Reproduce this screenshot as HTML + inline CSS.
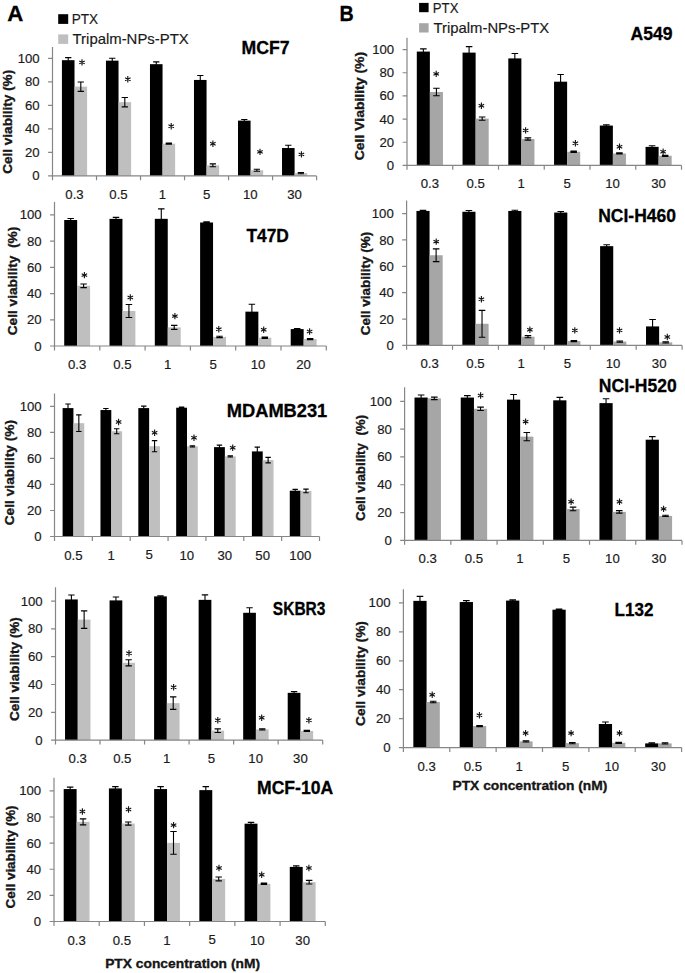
<!DOCTYPE html>
<html><head><meta charset="utf-8"><style>
html,body{margin:0;padding:0;background:#fff;}
svg{display:block;font-family:"Liberation Sans",sans-serif;}
text{stroke:#1a1a1a;stroke-width:0.18px;}
text[font-weight=bold]{stroke:#000;stroke-width:0.3px;}
</style></head><body>
<svg width="685" height="973" viewBox="0 0 685 973">
<rect width="685" height="973" fill="#fff"/>
<rect x="61.93" y="60.18" width="12.58" height="115.72" fill="#000"/>
<rect x="74.51" y="86.64" width="12.58" height="89.26" fill="#bfbfbf"/>
<path d="M68.22 57.59V62.77M65.08 57.59H71.36M65.08 62.77H71.36" stroke="#000" stroke-width="1.1" fill="none"/>
<path d="M80.80 81.94V91.35M77.65 81.94H83.94M77.65 91.35H83.94" stroke="#000" stroke-width="1.1" fill="none"/>
<rect x="105.95" y="60.65" width="12.58" height="115.25" fill="#000"/>
<rect x="118.53" y="102.16" width="12.58" height="73.74" fill="#bfbfbf"/>
<path d="M112.24 58.30V63.00M109.09 58.30H115.38M109.09 63.00H115.38" stroke="#000" stroke-width="1.1" fill="none"/>
<path d="M124.81 97.46V106.87M121.67 97.46H127.96M121.67 106.87H127.96" stroke="#000" stroke-width="1.1" fill="none"/>
<rect x="149.97" y="64.18" width="12.58" height="111.72" fill="#000"/>
<rect x="162.54" y="143.68" width="12.58" height="32.22" fill="#bfbfbf"/>
<path d="M156.25 61.83V66.53M153.11 61.83H159.40M153.11 66.53H159.40" stroke="#000" stroke-width="1.1" fill="none"/>
<path d="M168.83 143.08V144.28M165.69 143.08H171.97M165.69 144.28H171.97" stroke="#000" stroke-width="1.1" fill="none"/>
<rect x="193.98" y="79.94" width="12.58" height="95.96" fill="#000"/>
<rect x="206.56" y="165.32" width="12.58" height="10.58" fill="#bfbfbf"/>
<path d="M200.27 75.47V84.41M197.13 75.47H203.41M197.13 84.41H203.41" stroke="#000" stroke-width="1.1" fill="none"/>
<path d="M212.85 163.90V166.73M209.70 163.90H215.99M209.70 166.73H215.99" stroke="#000" stroke-width="1.1" fill="none"/>
<rect x="238.00" y="120.63" width="12.58" height="55.27" fill="#000"/>
<rect x="250.58" y="170.26" width="12.58" height="5.64" fill="#bfbfbf"/>
<path d="M244.29 119.45V121.80M241.14 119.45H247.43M241.14 121.80H247.43" stroke="#000" stroke-width="1.1" fill="none"/>
<path d="M256.86 169.31V171.20M253.72 169.31H260.01M253.72 171.20H260.01" stroke="#000" stroke-width="1.1" fill="none"/>
<rect x="282.02" y="148.03" width="12.58" height="27.87" fill="#000"/>
<rect x="294.59" y="173.08" width="12.58" height="2.82" fill="#bfbfbf"/>
<path d="M288.30 145.32V150.73M285.16 145.32H291.45M285.16 150.73H291.45" stroke="#000" stroke-width="1.1" fill="none"/>
<path d="M300.88 172.48V173.68M297.74 172.48H304.02M297.74 173.68H304.02" stroke="#000" stroke-width="1.1" fill="none"/>
<path d="M52.50 47.00V175.90H316.60" stroke="#868686" stroke-width="1.2" fill="none"/>
<path d="M48.10 175.90H52.50M48.10 152.38H52.50M48.10 128.86H52.50M48.10 105.34H52.50M48.10 81.82H52.50M48.10 58.30H52.50M52.50 175.90V180.30M96.52 175.90V180.30M140.53 175.90V180.30M184.55 175.90V180.30M228.57 175.90V180.30M272.58 175.90V180.30M316.60 175.90V180.30" stroke="#868686" stroke-width="1.2" fill="none"/>
<text x="32.37" y="180.44" font-size="13.2" fill="#1a1a1a">0</text>
<text x="25.03" y="156.92" font-size="13.2" fill="#1a1a1a">20</text>
<text x="25.03" y="133.40" font-size="13.2" fill="#1a1a1a">40</text>
<text x="25.03" y="109.88" font-size="13.2" fill="#1a1a1a">60</text>
<text x="25.03" y="86.36" font-size="13.2" fill="#1a1a1a">80</text>
<text x="17.69" y="62.84" font-size="13.2" fill="#1a1a1a">100</text>
<text x="65.37" y="198.94" font-size="13.2" fill="#1a1a1a">0.3</text>
<text x="109.37" y="198.94" font-size="13.2" fill="#1a1a1a">0.5</text>
<text x="158.69" y="198.94" font-size="13.2" fill="#1a1a1a">1</text>
<text x="202.90" y="198.88" font-size="13.2" fill="#1a1a1a">5</text>
<text x="242.99" y="198.94" font-size="13.2" fill="#1a1a1a">10</text>
<text x="287.26" y="198.94" font-size="13.2" fill="#1a1a1a">30</text>
<path d="M82.00 59.20V65.60M79.26 60.94L84.74 63.86M79.26 63.86L84.74 60.94" stroke="#111" stroke-width="1.1" fill="none"/>
<path d="M127.80 76.00V82.40M125.06 77.74L130.54 80.66M125.06 80.66L130.54 77.74" stroke="#111" stroke-width="1.1" fill="none"/>
<path d="M171.20 123.10V129.50M168.46 124.84L173.94 127.76M168.46 127.76L173.94 124.84" stroke="#111" stroke-width="1.1" fill="none"/>
<path d="M212.90 140.50V146.90M210.16 142.24L215.64 145.16M210.16 145.16L215.64 142.24" stroke="#111" stroke-width="1.1" fill="none"/>
<path d="M260.00 148.70V155.10M257.26 150.44L262.74 153.36M257.26 153.36L262.74 150.44" stroke="#111" stroke-width="1.1" fill="none"/>
<path d="M301.40 151.20V157.60M298.66 152.94L304.14 155.86M298.66 155.86L304.14 152.94" stroke="#111" stroke-width="1.1" fill="none"/>
<text x="241.62" y="53.90" font-size="17.88" font-weight="bold" fill="#000" textLength="48.06" lengthAdjust="spacingAndGlyphs">MCF7</text>
<text transform="translate(12.30,173.86) rotate(-90)" x="0" y="0" font-size="13.08" font-weight="bold" fill="#1a1a1a" textLength="104.03" lengthAdjust="spacingAndGlyphs" xml:space="preserve">Cell viability (%)</text>
<rect x="64.21" y="220.01" width="12.94" height="125.99" fill="#000"/>
<rect x="77.15" y="285.83" width="12.94" height="60.17" fill="#bfbfbf"/>
<path d="M70.68 218.57V221.46M67.44 218.57H73.91M67.44 221.46H73.91" stroke="#000" stroke-width="1.1" fill="none"/>
<path d="M83.62 283.99V287.66M80.39 283.99H86.86M80.39 287.66H86.86" stroke="#000" stroke-width="1.1" fill="none"/>
<rect x="109.51" y="218.83" width="12.94" height="127.17" fill="#000"/>
<rect x="122.45" y="311.00" width="12.94" height="35.00" fill="#bfbfbf"/>
<path d="M115.98 217.39V220.28M112.74 217.39H119.21M112.74 220.28H119.21" stroke="#000" stroke-width="1.1" fill="none"/>
<path d="M128.92 304.44V317.55M125.69 304.44H132.16M125.69 317.55H132.16" stroke="#000" stroke-width="1.1" fill="none"/>
<rect x="154.81" y="218.83" width="12.94" height="127.17" fill="#000"/>
<rect x="167.75" y="327.38" width="12.94" height="18.62" fill="#bfbfbf"/>
<path d="M161.28 208.87V228.80M158.04 208.87H164.51M158.04 228.80H164.51" stroke="#000" stroke-width="1.1" fill="none"/>
<path d="M174.22 325.42V329.35M170.99 325.42H177.46M170.99 329.35H177.46" stroke="#000" stroke-width="1.1" fill="none"/>
<rect x="200.11" y="222.50" width="12.94" height="123.50" fill="#000"/>
<rect x="213.05" y="336.95" width="12.94" height="9.05" fill="#bfbfbf"/>
<path d="M206.58 221.85V223.16M203.34 221.85H209.81M203.34 223.16H209.81" stroke="#000" stroke-width="1.1" fill="none"/>
<path d="M219.52 336.30V337.61M216.29 336.30H222.76M216.29 337.61H222.76" stroke="#000" stroke-width="1.1" fill="none"/>
<rect x="245.41" y="311.65" width="12.94" height="34.35" fill="#000"/>
<rect x="258.35" y="337.74" width="12.94" height="8.26" fill="#bfbfbf"/>
<path d="M251.88 304.31V318.99M248.64 304.31H255.11M248.64 318.99H255.11" stroke="#000" stroke-width="1.1" fill="none"/>
<path d="M264.82 337.14V338.34M261.59 337.14H268.06M261.59 338.34H268.06" stroke="#000" stroke-width="1.1" fill="none"/>
<rect x="290.71" y="329.09" width="12.94" height="16.91" fill="#000"/>
<rect x="303.65" y="339.05" width="12.94" height="6.95" fill="#bfbfbf"/>
<path d="M297.18 328.49V329.69M293.94 328.49H300.41M293.94 329.69H300.41" stroke="#000" stroke-width="1.1" fill="none"/>
<path d="M310.12 338.45V339.65M306.89 338.45H313.36M306.89 339.65H313.36" stroke="#000" stroke-width="1.1" fill="none"/>
<path d="M54.50 201.90V346.00H326.30" stroke="#868686" stroke-width="1.2" fill="none"/>
<path d="M50.10 346.00H54.50M50.10 319.78H54.50M50.10 293.56H54.50M50.10 267.34H54.50M50.10 241.12H54.50M50.10 214.90H54.50M54.50 346.00V350.40M99.80 346.00V350.40M145.10 346.00V350.40M190.40 346.00V350.40M235.70 346.00V350.40M281.00 346.00V350.40M326.30 346.00V350.40" stroke="#868686" stroke-width="1.2" fill="none"/>
<text x="34.37" y="350.54" font-size="13.2" fill="#1a1a1a">0</text>
<text x="27.03" y="324.32" font-size="13.2" fill="#1a1a1a">20</text>
<text x="27.03" y="298.10" font-size="13.2" fill="#1a1a1a">40</text>
<text x="27.03" y="271.88" font-size="13.2" fill="#1a1a1a">60</text>
<text x="27.03" y="245.66" font-size="13.2" fill="#1a1a1a">80</text>
<text x="19.69" y="219.44" font-size="13.2" fill="#1a1a1a">100</text>
<text x="68.01" y="369.04" font-size="13.2" fill="#1a1a1a">0.3</text>
<text x="113.29" y="369.04" font-size="13.2" fill="#1a1a1a">0.5</text>
<text x="163.90" y="369.04" font-size="13.2" fill="#1a1a1a">1</text>
<text x="209.39" y="368.98" font-size="13.2" fill="#1a1a1a">5</text>
<text x="250.76" y="369.04" font-size="13.2" fill="#1a1a1a">10</text>
<text x="296.23" y="369.04" font-size="13.2" fill="#1a1a1a">20</text>
<path d="M84.40 271.90V278.30M81.66 273.64L87.14 276.56M81.66 276.56L87.14 273.64" stroke="#111" stroke-width="1.1" fill="none"/>
<path d="M130.30 294.30V300.70M127.56 296.04L133.04 298.96M127.56 298.96L133.04 296.04" stroke="#111" stroke-width="1.1" fill="none"/>
<path d="M174.90 312.90V319.30M172.16 314.64L177.64 317.56M172.16 317.56L177.64 314.64" stroke="#111" stroke-width="1.1" fill="none"/>
<path d="M218.80 326.00V332.40M216.06 327.74L221.54 330.66M216.06 330.66L221.54 327.74" stroke="#111" stroke-width="1.1" fill="none"/>
<path d="M263.70 326.50V332.90M260.96 328.24L266.44 331.16M260.96 331.16L266.44 328.24" stroke="#111" stroke-width="1.1" fill="none"/>
<path d="M309.60 328.30V334.70M306.86 330.04L312.34 332.96M306.86 332.96L312.34 330.04" stroke="#111" stroke-width="1.1" fill="none"/>
<text x="246.40" y="241.70" font-size="18.17" font-weight="bold" fill="#000" textLength="42.53" lengthAdjust="spacingAndGlyphs">T47D</text>
<text transform="translate(17.30,335.26) rotate(-90)" x="0" y="0" font-size="13.08" font-weight="bold" fill="#1a1a1a" textLength="108.54" lengthAdjust="spacingAndGlyphs" xml:space="preserve">Cell viability  (%)</text>
<rect x="62.61" y="408.09" width="10.82" height="128.41" fill="#000"/>
<rect x="73.43" y="423.18" width="10.82" height="113.32" fill="#bfbfbf"/>
<path d="M68.02 404.06V412.12M65.32 404.06H70.72M65.32 412.12H70.72" stroke="#000" stroke-width="1.1" fill="none"/>
<path d="M78.84 414.86V431.51M76.13 414.86H81.54M76.13 431.51H81.54" stroke="#000" stroke-width="1.1" fill="none"/>
<rect x="100.47" y="410.04" width="10.82" height="126.46" fill="#000"/>
<rect x="111.29" y="431.25" width="10.82" height="105.25" fill="#bfbfbf"/>
<path d="M105.88 408.48V411.60M103.17 408.48H108.58M103.17 411.60H108.58" stroke="#000" stroke-width="1.1" fill="none"/>
<path d="M116.69 428.78V433.72M113.99 428.78H119.40M113.99 433.72H119.40" stroke="#000" stroke-width="1.1" fill="none"/>
<rect x="138.33" y="408.09" width="10.82" height="128.41" fill="#000"/>
<rect x="149.14" y="446.21" width="10.82" height="90.29" fill="#bfbfbf"/>
<path d="M143.73 406.14V410.04M141.03 406.14H146.44M141.03 410.04H146.44" stroke="#000" stroke-width="1.1" fill="none"/>
<path d="M154.55 440.62V451.80M151.85 440.62H157.26M151.85 451.80H157.26" stroke="#000" stroke-width="1.1" fill="none"/>
<rect x="176.18" y="407.70" width="10.82" height="128.80" fill="#000"/>
<rect x="187.00" y="446.34" width="10.82" height="90.16" fill="#bfbfbf"/>
<path d="M181.59 407.10V408.30M178.89 407.10H184.30M178.89 408.30H184.30" stroke="#000" stroke-width="1.1" fill="none"/>
<path d="M192.41 445.69V446.99M189.70 445.69H195.11M189.70 446.99H195.11" stroke="#000" stroke-width="1.1" fill="none"/>
<rect x="214.04" y="447.12" width="10.82" height="89.38" fill="#000"/>
<rect x="224.86" y="456.36" width="10.82" height="80.14" fill="#bfbfbf"/>
<path d="M219.45 445.17V449.07M216.74 445.17H222.15M216.74 449.07H222.15" stroke="#000" stroke-width="1.1" fill="none"/>
<path d="M230.27 455.71V457.01M227.56 455.71H232.97M227.56 457.01H232.97" stroke="#000" stroke-width="1.1" fill="none"/>
<rect x="251.90" y="451.41" width="10.82" height="85.09" fill="#000"/>
<rect x="262.71" y="460.13" width="10.82" height="76.37" fill="#bfbfbf"/>
<path d="M257.31 447.12V455.71M254.60 447.12H260.01M254.60 455.71H260.01" stroke="#000" stroke-width="1.1" fill="none"/>
<path d="M268.12 457.40V462.86M265.42 457.40H270.83M265.42 462.86H270.83" stroke="#000" stroke-width="1.1" fill="none"/>
<rect x="289.76" y="490.70" width="10.82" height="45.80" fill="#000"/>
<rect x="300.57" y="490.96" width="10.82" height="45.54" fill="#bfbfbf"/>
<path d="M295.16 489.40V492.01M292.46 489.40H297.87M292.46 492.01H297.87" stroke="#000" stroke-width="1.1" fill="none"/>
<path d="M305.98 489.14V492.79M303.28 489.14H308.68M303.28 492.79H308.68" stroke="#000" stroke-width="1.1" fill="none"/>
<path d="M54.50 393.50V536.50H319.50" stroke="#868686" stroke-width="1.2" fill="none"/>
<path d="M50.10 536.50H54.50M50.10 510.48H54.50M50.10 484.46H54.50M50.10 458.44H54.50M50.10 432.42H54.50M50.10 406.40H54.50M54.50 536.50V540.90M92.36 536.50V540.90M130.21 536.50V540.90M168.07 536.50V540.90M205.93 536.50V540.90M243.79 536.50V540.90M281.64 536.50V540.90M319.50 536.50V540.90" stroke="#868686" stroke-width="1.2" fill="none"/>
<text x="34.37" y="541.04" font-size="13.2" fill="#1a1a1a">0</text>
<text x="27.03" y="515.02" font-size="13.2" fill="#1a1a1a">20</text>
<text x="27.03" y="489.00" font-size="13.2" fill="#1a1a1a">40</text>
<text x="27.03" y="462.98" font-size="13.2" fill="#1a1a1a">60</text>
<text x="27.03" y="436.96" font-size="13.2" fill="#1a1a1a">80</text>
<text x="19.69" y="410.94" font-size="13.2" fill="#1a1a1a">100</text>
<text x="64.27" y="559.54" font-size="13.2" fill="#1a1a1a">0.5</text>
<text x="107.43" y="559.54" font-size="13.2" fill="#1a1a1a">1</text>
<text x="145.49" y="559.48" font-size="13.2" fill="#1a1a1a">5</text>
<text x="179.41" y="559.54" font-size="13.2" fill="#1a1a1a">10</text>
<text x="217.52" y="559.54" font-size="13.2" fill="#1a1a1a">30</text>
<text x="255.37" y="559.54" font-size="13.2" fill="#1a1a1a">50</text>
<text x="289.31" y="559.54" font-size="13.2" fill="#1a1a1a">100</text>
<path d="M118.60 418.80V425.20M115.86 420.54L121.34 423.46M115.86 423.46L121.34 420.54" stroke="#111" stroke-width="1.1" fill="none"/>
<path d="M154.60 429.50V435.90M151.86 431.24L157.34 434.16M151.86 434.16L157.34 431.24" stroke="#111" stroke-width="1.1" fill="none"/>
<path d="M194.00 434.50V440.90M191.26 436.24L196.74 439.16M191.26 439.16L196.74 436.24" stroke="#111" stroke-width="1.1" fill="none"/>
<path d="M232.70 444.50V450.90M229.96 446.24L235.44 449.16M229.96 449.16L235.44 446.24" stroke="#111" stroke-width="1.1" fill="none"/>
<text x="226.78" y="417.20" font-size="17.73" font-weight="bold" fill="#000" textLength="100.53" lengthAdjust="spacingAndGlyphs">MDAMB231</text>
<text transform="translate(13.50,525.36) rotate(-90)" x="0" y="0" font-size="13.08" font-weight="bold" fill="#1a1a1a" textLength="105.55" lengthAdjust="spacingAndGlyphs" xml:space="preserve">Cell viability (%)</text>
<rect x="65.04" y="599.43" width="12.72" height="140.67" fill="#000"/>
<rect x="77.77" y="619.59" width="12.72" height="120.51" fill="#bfbfbf"/>
<path d="M71.40 594.98V603.88M68.22 594.98H74.59M68.22 603.88H74.59" stroke="#000" stroke-width="1.1" fill="none"/>
<path d="M84.13 610.83V628.34M80.95 610.83H87.31M80.95 628.34H87.31" stroke="#000" stroke-width="1.1" fill="none"/>
<rect x="109.58" y="600.40" width="12.72" height="139.70" fill="#000"/>
<rect x="122.30" y="662.82" width="12.72" height="77.28" fill="#bfbfbf"/>
<path d="M115.94 596.93V603.88M112.76 596.93H119.12M112.76 603.88H119.12" stroke="#000" stroke-width="1.1" fill="none"/>
<path d="M128.66 659.76V665.87M125.48 659.76H131.84M125.48 665.87H131.84" stroke="#000" stroke-width="1.1" fill="none"/>
<rect x="154.11" y="596.37" width="12.72" height="143.73" fill="#000"/>
<rect x="166.83" y="703.13" width="12.72" height="36.97" fill="#bfbfbf"/>
<path d="M160.47 595.77V596.97M157.29 595.77H163.65M157.29 596.97H163.65" stroke="#000" stroke-width="1.1" fill="none"/>
<path d="M173.20 696.87V709.38M170.01 696.87H176.38M170.01 709.38H176.38" stroke="#000" stroke-width="1.1" fill="none"/>
<rect x="198.64" y="599.85" width="12.72" height="140.25" fill="#000"/>
<rect x="211.37" y="730.65" width="12.72" height="9.45" fill="#bfbfbf"/>
<path d="M205.00 594.85V604.85M201.82 594.85H208.19M201.82 604.85H208.19" stroke="#000" stroke-width="1.1" fill="none"/>
<path d="M217.73 728.84V732.46M214.55 728.84H220.91M214.55 732.46H220.91" stroke="#000" stroke-width="1.1" fill="none"/>
<rect x="243.18" y="612.78" width="12.72" height="127.32" fill="#000"/>
<rect x="255.90" y="729.40" width="12.72" height="10.70" fill="#bfbfbf"/>
<path d="M249.54 607.77V617.78M246.36 607.77H252.72M246.36 617.78H252.72" stroke="#000" stroke-width="1.1" fill="none"/>
<path d="M262.26 728.80V730.00M259.08 728.80H265.44M259.08 730.00H265.44" stroke="#000" stroke-width="1.1" fill="none"/>
<rect x="287.71" y="692.84" width="12.72" height="47.26" fill="#000"/>
<rect x="300.43" y="730.93" width="12.72" height="9.17" fill="#bfbfbf"/>
<path d="M294.07 691.59V694.09M290.89 691.59H297.25M290.89 694.09H297.25" stroke="#000" stroke-width="1.1" fill="none"/>
<path d="M306.80 730.33V731.53M303.61 730.33H309.98M303.61 731.53H309.98" stroke="#000" stroke-width="1.1" fill="none"/>
<path d="M55.50 587.30V740.10H322.70" stroke="#868686" stroke-width="1.2" fill="none"/>
<path d="M51.10 740.10H55.50M51.10 712.30H55.50M51.10 684.50H55.50M51.10 656.70H55.50M51.10 628.90H55.50M51.10 601.10H55.50M55.50 740.10V744.50M100.03 740.10V744.50M144.57 740.10V744.50M189.10 740.10V744.50M233.63 740.10V744.50M278.17 740.10V744.50M322.70 740.10V744.50" stroke="#868686" stroke-width="1.2" fill="none"/>
<text x="35.37" y="744.64" font-size="13.2" fill="#1a1a1a">0</text>
<text x="28.03" y="716.84" font-size="13.2" fill="#1a1a1a">20</text>
<text x="28.03" y="689.04" font-size="13.2" fill="#1a1a1a">40</text>
<text x="28.03" y="661.24" font-size="13.2" fill="#1a1a1a">60</text>
<text x="28.03" y="633.44" font-size="13.2" fill="#1a1a1a">80</text>
<text x="20.69" y="605.64" font-size="13.2" fill="#1a1a1a">100</text>
<text x="68.62" y="763.14" font-size="13.2" fill="#1a1a1a">0.3</text>
<text x="113.14" y="763.14" font-size="13.2" fill="#1a1a1a">0.5</text>
<text x="162.98" y="763.14" font-size="13.2" fill="#1a1a1a">1</text>
<text x="207.71" y="763.08" font-size="13.2" fill="#1a1a1a">5</text>
<text x="248.31" y="763.14" font-size="13.2" fill="#1a1a1a">10</text>
<text x="293.10" y="763.14" font-size="13.2" fill="#1a1a1a">30</text>
<path d="M129.00 650.10V656.50M126.26 651.84L131.74 654.76M126.26 654.76L131.74 651.84" stroke="#111" stroke-width="1.1" fill="none"/>
<path d="M173.60 684.10V690.50M170.86 685.84L176.34 688.76M170.86 688.76L176.34 685.84" stroke="#111" stroke-width="1.1" fill="none"/>
<path d="M217.80 717.10V723.50M215.06 718.84L220.54 721.76M215.06 721.76L220.54 718.84" stroke="#111" stroke-width="1.1" fill="none"/>
<path d="M261.70 714.60V721.00M258.96 716.34L264.44 719.26M258.96 719.26L264.44 716.34" stroke="#111" stroke-width="1.1" fill="none"/>
<path d="M308.90 717.10V723.50M306.16 718.84L311.64 721.76M306.16 721.76L311.64 718.84" stroke="#111" stroke-width="1.1" fill="none"/>
<text x="272.85" y="614.60" font-size="18.17" font-weight="bold" fill="#000" textLength="52.61" lengthAdjust="spacingAndGlyphs">SKBR3</text>
<text transform="translate(18.50,720.95) rotate(-90)" x="0" y="0" font-size="13.08" font-weight="bold" fill="#1a1a1a" textLength="103.63" lengthAdjust="spacingAndGlyphs" xml:space="preserve">Cell viability (%)</text>
<rect x="63.69" y="789.07" width="12.92" height="132.43" fill="#000"/>
<rect x="76.61" y="821.85" width="12.92" height="99.65" fill="#bfbfbf"/>
<path d="M70.15 787.11V791.03M66.92 787.11H73.38M66.92 791.03H73.38" stroke="#000" stroke-width="1.1" fill="none"/>
<path d="M83.07 818.85V824.86M79.84 818.85H86.30M79.84 824.86H86.30" stroke="#000" stroke-width="1.1" fill="none"/>
<rect x="108.91" y="788.42" width="12.92" height="133.08" fill="#000"/>
<rect x="121.83" y="823.55" width="12.92" height="97.95" fill="#bfbfbf"/>
<path d="M115.37 786.59V790.25M112.14 786.59H118.60M112.14 790.25H118.60" stroke="#000" stroke-width="1.1" fill="none"/>
<path d="M128.28 821.98V825.12M125.05 821.98H131.51M125.05 825.12H131.51" stroke="#000" stroke-width="1.1" fill="none"/>
<rect x="154.12" y="789.07" width="12.92" height="132.43" fill="#000"/>
<rect x="167.04" y="842.88" width="12.92" height="78.62" fill="#bfbfbf"/>
<path d="M160.58 786.59V791.55M157.35 786.59H163.81M157.35 791.55H163.81" stroke="#000" stroke-width="1.1" fill="none"/>
<path d="M173.50 831.52V854.24M170.27 831.52H176.73M170.27 854.24H176.73" stroke="#000" stroke-width="1.1" fill="none"/>
<rect x="199.34" y="790.12" width="12.92" height="131.38" fill="#000"/>
<rect x="212.26" y="878.92" width="12.92" height="42.58" fill="#bfbfbf"/>
<path d="M205.80 786.59V793.64M202.57 786.59H209.03M202.57 793.64H209.03" stroke="#000" stroke-width="1.1" fill="none"/>
<path d="M218.72 876.97V880.88M215.49 876.97H221.95M215.49 880.88H221.95" stroke="#000" stroke-width="1.1" fill="none"/>
<rect x="244.56" y="823.68" width="12.92" height="97.82" fill="#000"/>
<rect x="257.48" y="883.76" width="12.92" height="37.74" fill="#bfbfbf"/>
<path d="M251.02 822.37V824.99M247.79 822.37H254.25M247.79 824.99H254.25" stroke="#000" stroke-width="1.1" fill="none"/>
<path d="M263.93 883.16V884.36M260.70 883.16H267.16M260.70 884.36H267.16" stroke="#000" stroke-width="1.1" fill="none"/>
<rect x="289.77" y="866.91" width="12.92" height="54.59" fill="#000"/>
<rect x="302.69" y="882.19" width="12.92" height="39.31" fill="#bfbfbf"/>
<path d="M296.23 865.86V867.95M293.00 865.86H299.46M293.00 867.95H299.46" stroke="#000" stroke-width="1.1" fill="none"/>
<path d="M309.15 880.36V884.02M305.92 880.36H312.38M305.92 884.02H312.38" stroke="#000" stroke-width="1.1" fill="none"/>
<path d="M54.00 777.80V921.50H325.30" stroke="#868686" stroke-width="1.2" fill="none"/>
<path d="M49.60 921.50H54.00M49.60 895.38H54.00M49.60 869.26H54.00M49.60 843.14H54.00M49.60 817.02H54.00M49.60 790.90H54.00M54.00 921.50V925.90M99.22 921.50V925.90M144.43 921.50V925.90M189.65 921.50V925.90M234.87 921.50V925.90M280.08 921.50V925.90M325.30 921.50V925.90" stroke="#868686" stroke-width="1.2" fill="none"/>
<text x="33.87" y="926.04" font-size="13.2" fill="#1a1a1a">0</text>
<text x="26.53" y="899.92" font-size="13.2" fill="#1a1a1a">20</text>
<text x="26.53" y="873.80" font-size="13.2" fill="#1a1a1a">40</text>
<text x="26.53" y="847.68" font-size="13.2" fill="#1a1a1a">60</text>
<text x="26.53" y="821.56" font-size="13.2" fill="#1a1a1a">80</text>
<text x="19.19" y="795.44" font-size="13.2" fill="#1a1a1a">100</text>
<text x="67.47" y="944.54" font-size="13.2" fill="#1a1a1a">0.3</text>
<text x="112.67" y="944.54" font-size="13.2" fill="#1a1a1a">0.5</text>
<text x="163.19" y="944.54" font-size="13.2" fill="#1a1a1a">1</text>
<text x="208.60" y="944.48" font-size="13.2" fill="#1a1a1a">5</text>
<text x="249.89" y="944.54" font-size="13.2" fill="#1a1a1a">10</text>
<text x="295.36" y="944.54" font-size="13.2" fill="#1a1a1a">30</text>
<path d="M82.40 808.30V814.70M79.66 810.04L85.14 812.96M79.66 812.96L85.14 810.04" stroke="#111" stroke-width="1.1" fill="none"/>
<path d="M128.50 806.30V812.70M125.76 808.04L131.24 810.96M125.76 810.96L131.24 808.04" stroke="#111" stroke-width="1.1" fill="none"/>
<path d="M173.60 821.90V828.30M170.86 823.64L176.34 826.56M170.86 826.56L176.34 823.64" stroke="#111" stroke-width="1.1" fill="none"/>
<path d="M219.00 864.80V871.20M216.26 866.54L221.74 869.46M216.26 869.46L221.74 866.54" stroke="#111" stroke-width="1.1" fill="none"/>
<path d="M261.70 871.50V877.90M258.96 873.24L264.44 876.16M258.96 876.16L264.44 873.24" stroke="#111" stroke-width="1.1" fill="none"/>
<path d="M308.90 864.80V871.20M306.16 866.54L311.64 869.46M306.16 869.46L311.64 866.54" stroke="#111" stroke-width="1.1" fill="none"/>
<text x="257.02" y="794.10" font-size="18.02" font-weight="bold" fill="#000" textLength="76.14" lengthAdjust="spacingAndGlyphs">MCF-10A</text>
<text transform="translate(15.40,908.45) rotate(-90)" x="0" y="0" font-size="13.08" font-weight="bold" fill="#1a1a1a" textLength="103.02" lengthAdjust="spacingAndGlyphs" xml:space="preserve">Cell viability (%)</text>
<rect x="416.80" y="51.57" width="13.07" height="113.83" fill="#000"/>
<rect x="429.88" y="91.98" width="13.07" height="73.42" fill="#a6a6a6"/>
<path d="M423.34 48.91V54.23M420.07 48.91H426.61M420.07 54.23H426.61" stroke="#000" stroke-width="1.1" fill="none"/>
<path d="M436.41 88.28V95.69M433.14 88.28H439.68M433.14 95.69H439.68" stroke="#000" stroke-width="1.1" fill="none"/>
<rect x="462.55" y="52.61" width="13.07" height="112.79" fill="#000"/>
<rect x="475.62" y="118.62" width="13.07" height="46.78" fill="#a6a6a6"/>
<path d="M469.09 46.59V58.63M465.82 46.59H472.36M465.82 58.63H472.36" stroke="#000" stroke-width="1.1" fill="none"/>
<path d="M482.16 117.00V120.24M478.89 117.00H485.43M478.89 120.24H485.43" stroke="#000" stroke-width="1.1" fill="none"/>
<rect x="508.30" y="58.40" width="13.07" height="107.00" fill="#000"/>
<rect x="521.38" y="139.00" width="13.07" height="26.40" fill="#a6a6a6"/>
<path d="M514.84 53.54V63.26M511.57 53.54H518.11M511.57 63.26H518.11" stroke="#000" stroke-width="1.1" fill="none"/>
<path d="M527.91 137.84V140.16M524.64 137.84H531.18M524.64 140.16H531.18" stroke="#000" stroke-width="1.1" fill="none"/>
<rect x="554.05" y="81.68" width="13.07" height="83.72" fill="#000"/>
<rect x="567.12" y="151.74" width="13.07" height="13.66" fill="#a6a6a6"/>
<path d="M560.59 74.50V88.86M557.32 74.50H563.86M557.32 88.86H563.86" stroke="#000" stroke-width="1.1" fill="none"/>
<path d="M573.66 151.14V152.34M570.39 151.14H576.93M570.39 152.34H576.93" stroke="#000" stroke-width="1.1" fill="none"/>
<rect x="599.80" y="125.56" width="13.07" height="39.84" fill="#000"/>
<rect x="612.88" y="153.47" width="13.07" height="11.93" fill="#a6a6a6"/>
<path d="M606.34 124.75V126.38M603.07 124.75H609.61M603.07 126.38H609.61" stroke="#000" stroke-width="1.1" fill="none"/>
<path d="M619.41 152.87V154.07M616.14 152.87H622.68M616.14 154.07H622.68" stroke="#000" stroke-width="1.1" fill="none"/>
<rect x="645.55" y="146.87" width="13.07" height="18.53" fill="#000"/>
<rect x="658.62" y="155.79" width="13.07" height="9.61" fill="#a6a6a6"/>
<path d="M652.09 145.71V148.03M648.82 145.71H655.36M648.82 148.03H655.36" stroke="#000" stroke-width="1.1" fill="none"/>
<path d="M665.16 155.19V156.39M661.89 155.19H668.43M661.89 156.39H668.43" stroke="#000" stroke-width="1.1" fill="none"/>
<path d="M407.00 37.80V165.40H681.50" stroke="#868686" stroke-width="1.2" fill="none"/>
<path d="M402.60 165.40H407.00M402.60 142.24H407.00M402.60 119.08H407.00M402.60 95.92H407.00M402.60 72.76H407.00M402.60 49.60H407.00M407.00 165.40V169.80M452.75 165.40V169.80M498.50 165.40V169.80M544.25 165.40V169.80M590.00 165.40V169.80M635.75 165.40V169.80M681.50 165.40V169.80" stroke="#868686" stroke-width="1.2" fill="none"/>
<text x="386.87" y="169.94" font-size="13.2" fill="#1a1a1a">0</text>
<text x="379.53" y="146.78" font-size="13.2" fill="#1a1a1a">20</text>
<text x="379.53" y="123.62" font-size="13.2" fill="#1a1a1a">40</text>
<text x="379.53" y="100.46" font-size="13.2" fill="#1a1a1a">60</text>
<text x="379.53" y="77.30" font-size="13.2" fill="#1a1a1a">80</text>
<text x="372.19" y="54.14" font-size="13.2" fill="#1a1a1a">100</text>
<text x="420.73" y="188.44" font-size="13.2" fill="#1a1a1a">0.3</text>
<text x="466.47" y="188.44" font-size="13.2" fill="#1a1a1a">0.5</text>
<text x="517.52" y="188.44" font-size="13.2" fill="#1a1a1a">1</text>
<text x="563.47" y="188.38" font-size="13.2" fill="#1a1a1a">5</text>
<text x="605.29" y="188.44" font-size="13.2" fill="#1a1a1a">10</text>
<text x="651.29" y="188.44" font-size="13.2" fill="#1a1a1a">30</text>
<path d="M436.20 70.70V77.10M433.46 72.44L438.94 75.36M433.46 75.36L438.94 72.44" stroke="#111" stroke-width="1.1" fill="none"/>
<path d="M481.40 102.50V108.90M478.66 104.24L484.14 107.16M478.66 107.16L484.14 104.24" stroke="#111" stroke-width="1.1" fill="none"/>
<path d="M525.60 127.20V133.60M522.86 128.94L528.34 131.86M522.86 131.86L528.34 128.94" stroke="#111" stroke-width="1.1" fill="none"/>
<path d="M575.40 140.10V146.50M572.66 141.84L578.14 144.76M572.66 144.76L578.14 141.84" stroke="#111" stroke-width="1.1" fill="none"/>
<path d="M619.50 143.50V149.90M616.76 145.24L622.24 148.16M616.76 148.16L622.24 145.24" stroke="#111" stroke-width="1.1" fill="none"/>
<path d="M663.10 148.60V155.00M660.36 150.34L665.84 153.26M660.36 153.26L665.84 150.34" stroke="#111" stroke-width="1.1" fill="none"/>
<text x="630.56" y="39.90" font-size="17.88" font-weight="bold" fill="#000" textLength="42.09" lengthAdjust="spacingAndGlyphs">A549</text>
<text transform="translate(363.60,160.37) rotate(-90)" x="0" y="0" font-size="13.08" font-weight="bold" fill="#1a1a1a" textLength="108.57" lengthAdjust="spacingAndGlyphs" xml:space="preserve">Cell Viability (%)</text>
<rect x="416.44" y="210.96" width="13.12" height="134.44" fill="#000"/>
<rect x="429.56" y="255.25" width="13.12" height="90.15" fill="#a6a6a6"/>
<path d="M423.00 210.36V211.56M419.72 210.36H426.28M419.72 211.56H426.28" stroke="#000" stroke-width="1.1" fill="none"/>
<path d="M436.12 248.92V261.58M432.84 248.92H439.40M432.84 261.58H439.40" stroke="#000" stroke-width="1.1" fill="none"/>
<rect x="462.36" y="211.75" width="13.12" height="133.65" fill="#000"/>
<rect x="475.48" y="323.78" width="13.12" height="21.62" fill="#a6a6a6"/>
<path d="M468.92 210.44V213.07M465.64 210.44H472.20M465.64 213.07H472.20" stroke="#000" stroke-width="1.1" fill="none"/>
<path d="M482.03 310.34V337.23M478.75 310.34H485.31M478.75 337.23H485.31" stroke="#000" stroke-width="1.1" fill="none"/>
<rect x="508.27" y="210.96" width="13.12" height="134.44" fill="#000"/>
<rect x="521.39" y="336.70" width="13.12" height="8.70" fill="#a6a6a6"/>
<path d="M514.83 210.31V211.62M511.55 210.31H518.11M511.55 211.62H518.11" stroke="#000" stroke-width="1.1" fill="none"/>
<path d="M527.95 335.65V337.76M524.67 335.65H531.23M524.67 337.76H531.23" stroke="#000" stroke-width="1.1" fill="none"/>
<rect x="554.19" y="212.55" width="13.12" height="132.85" fill="#000"/>
<rect x="567.31" y="341.05" width="13.12" height="4.35" fill="#a6a6a6"/>
<path d="M560.75 211.49V213.60M557.47 211.49H564.03M557.47 213.60H564.03" stroke="#000" stroke-width="1.1" fill="none"/>
<path d="M573.87 340.45V341.65M570.59 340.45H577.15M570.59 341.65H577.15" stroke="#000" stroke-width="1.1" fill="none"/>
<rect x="600.11" y="246.15" width="13.12" height="99.25" fill="#000"/>
<rect x="613.23" y="341.58" width="13.12" height="3.82" fill="#a6a6a6"/>
<path d="M606.67 244.70V247.60M603.39 244.70H609.95M603.39 247.60H609.95" stroke="#000" stroke-width="1.1" fill="none"/>
<path d="M619.78 340.98V342.18M616.50 340.98H623.06M616.50 342.18H623.06" stroke="#000" stroke-width="1.1" fill="none"/>
<rect x="646.02" y="326.42" width="13.12" height="18.98" fill="#000"/>
<rect x="659.14" y="342.37" width="13.12" height="3.03" fill="#a6a6a6"/>
<path d="M652.58 319.57V333.27M649.30 319.57H655.86M649.30 333.27H655.86" stroke="#000" stroke-width="1.1" fill="none"/>
<path d="M665.70 341.77V342.97M662.42 341.77H668.98M662.42 342.97H668.98" stroke="#000" stroke-width="1.1" fill="none"/>
<path d="M406.60 200.40V345.40H682.10" stroke="#868686" stroke-width="1.2" fill="none"/>
<path d="M402.20 345.40H406.60M402.20 319.04H406.60M402.20 292.68H406.60M402.20 266.32H406.60M402.20 239.96H406.60M402.20 213.60H406.60M406.60 345.40V349.80M452.52 345.40V349.80M498.43 345.40V349.80M544.35 345.40V349.80M590.27 345.40V349.80M636.18 345.40V349.80M682.10 345.40V349.80" stroke="#868686" stroke-width="1.2" fill="none"/>
<text x="386.47" y="349.94" font-size="13.2" fill="#1a1a1a">0</text>
<text x="379.13" y="323.58" font-size="13.2" fill="#1a1a1a">20</text>
<text x="379.13" y="297.22" font-size="13.2" fill="#1a1a1a">40</text>
<text x="379.13" y="270.86" font-size="13.2" fill="#1a1a1a">60</text>
<text x="379.13" y="244.50" font-size="13.2" fill="#1a1a1a">80</text>
<text x="371.79" y="218.14" font-size="13.2" fill="#1a1a1a">100</text>
<text x="420.42" y="368.44" font-size="13.2" fill="#1a1a1a">0.3</text>
<text x="466.32" y="368.44" font-size="13.2" fill="#1a1a1a">0.5</text>
<text x="517.54" y="368.44" font-size="13.2" fill="#1a1a1a">1</text>
<text x="563.65" y="368.38" font-size="13.2" fill="#1a1a1a">5</text>
<text x="605.64" y="368.44" font-size="13.2" fill="#1a1a1a">10</text>
<text x="651.81" y="368.44" font-size="13.2" fill="#1a1a1a">30</text>
<path d="M436.20 238.40V244.80M433.46 240.14L438.94 243.06M433.46 243.06L438.94 240.14" stroke="#111" stroke-width="1.1" fill="none"/>
<path d="M481.40 296.00V302.40M478.66 297.74L484.14 300.66M478.66 300.66L484.14 297.74" stroke="#111" stroke-width="1.1" fill="none"/>
<path d="M529.90 326.60V333.00M527.16 328.34L532.64 331.26M527.16 331.26L532.64 328.34" stroke="#111" stroke-width="1.1" fill="none"/>
<path d="M574.80 327.20V333.60M572.06 328.94L577.54 331.86M572.06 331.86L577.54 328.94" stroke="#111" stroke-width="1.1" fill="none"/>
<path d="M619.50 327.20V333.60M616.76 328.94L622.24 331.86M616.76 331.86L622.24 328.94" stroke="#111" stroke-width="1.1" fill="none"/>
<path d="M667.30 333.80V340.20M664.56 335.54L670.04 338.46M664.56 338.46L670.04 335.54" stroke="#111" stroke-width="1.1" fill="none"/>
<text x="598.23" y="221.90" font-size="18.17" font-weight="bold" fill="#000" textLength="77.79" lengthAdjust="spacingAndGlyphs">NCI-H460</text>
<text transform="translate(370.40,335.35) rotate(-90)" x="0" y="0" font-size="13.08" font-weight="bold" fill="#1a1a1a" textLength="103.63" lengthAdjust="spacingAndGlyphs" xml:space="preserve">Cell viability (%)</text>
<rect x="414.51" y="397.54" width="13.21" height="142.86" fill="#000"/>
<rect x="427.72" y="398.38" width="13.21" height="142.02" fill="#a6a6a6"/>
<path d="M421.11 395.04V400.05M417.81 395.04H424.41M417.81 400.05H424.41" stroke="#000" stroke-width="1.1" fill="none"/>
<path d="M434.32 397.13V399.63M431.02 397.13H437.62M431.02 399.63H437.62" stroke="#000" stroke-width="1.1" fill="none"/>
<rect x="460.74" y="397.54" width="13.21" height="142.86" fill="#000"/>
<rect x="473.95" y="408.81" width="13.21" height="131.59" fill="#a6a6a6"/>
<path d="M467.35 395.60V399.49M464.04 395.60H470.65M464.04 399.49H470.65" stroke="#000" stroke-width="1.1" fill="none"/>
<path d="M480.55 407.14V410.48M477.25 407.14H483.86M477.25 410.48H483.86" stroke="#000" stroke-width="1.1" fill="none"/>
<rect x="506.97" y="399.63" width="13.21" height="140.77" fill="#000"/>
<rect x="520.18" y="436.63" width="13.21" height="103.77" fill="#a6a6a6"/>
<path d="M513.58 394.48V404.78M510.28 394.48H516.88M510.28 404.78H516.88" stroke="#000" stroke-width="1.1" fill="none"/>
<path d="M526.79 432.46V440.80M523.49 432.46H530.09M523.49 440.80H530.09" stroke="#000" stroke-width="1.1" fill="none"/>
<rect x="553.21" y="400.33" width="13.21" height="140.07" fill="#000"/>
<rect x="566.42" y="508.96" width="13.21" height="31.44" fill="#a6a6a6"/>
<path d="M559.81 397.41V403.25M556.51 397.41H563.11M556.51 403.25H563.11" stroke="#000" stroke-width="1.1" fill="none"/>
<path d="M573.02 507.16V510.77M569.72 507.16H576.32M569.72 510.77H576.32" stroke="#000" stroke-width="1.1" fill="none"/>
<rect x="599.44" y="403.11" width="13.21" height="137.29" fill="#000"/>
<rect x="612.65" y="511.88" width="13.21" height="28.52" fill="#a6a6a6"/>
<path d="M606.05 398.80V407.42M602.74 398.80H609.35M602.74 407.42H609.35" stroke="#000" stroke-width="1.1" fill="none"/>
<path d="M619.25 510.63V513.14M615.95 510.63H622.56M615.95 513.14H622.56" stroke="#000" stroke-width="1.1" fill="none"/>
<rect x="645.67" y="439.69" width="13.21" height="100.71" fill="#000"/>
<rect x="658.88" y="515.92" width="13.21" height="24.48" fill="#a6a6a6"/>
<path d="M652.28 436.63V442.75M648.98 436.63H655.58M648.98 442.75H655.58" stroke="#000" stroke-width="1.1" fill="none"/>
<path d="M665.49 515.32V516.52M662.19 515.32H668.79M662.19 516.52H668.79" stroke="#000" stroke-width="1.1" fill="none"/>
<path d="M404.60 387.30V540.40H682.00" stroke="#868686" stroke-width="1.2" fill="none"/>
<path d="M400.20 540.40H404.60M400.20 512.58H404.60M400.20 484.76H404.60M400.20 456.94H404.60M400.20 429.12H404.60M400.20 401.30H404.60M404.60 540.40V544.80M450.83 540.40V544.80M497.07 540.40V544.80M543.30 540.40V544.80M589.53 540.40V544.80M635.77 540.40V544.80M682.00 540.40V544.80" stroke="#868686" stroke-width="1.2" fill="none"/>
<text x="384.47" y="544.94" font-size="13.2" fill="#1a1a1a">0</text>
<text x="377.13" y="517.12" font-size="13.2" fill="#1a1a1a">20</text>
<text x="377.13" y="489.30" font-size="13.2" fill="#1a1a1a">40</text>
<text x="377.13" y="461.48" font-size="13.2" fill="#1a1a1a">60</text>
<text x="377.13" y="433.66" font-size="13.2" fill="#1a1a1a">80</text>
<text x="369.79" y="405.84" font-size="13.2" fill="#1a1a1a">100</text>
<text x="418.57" y="563.44" font-size="13.2" fill="#1a1a1a">0.3</text>
<text x="464.79" y="563.44" font-size="13.2" fill="#1a1a1a">0.5</text>
<text x="516.33" y="563.44" font-size="13.2" fill="#1a1a1a">1</text>
<text x="562.76" y="563.38" font-size="13.2" fill="#1a1a1a">5</text>
<text x="605.06" y="563.44" font-size="13.2" fill="#1a1a1a">10</text>
<text x="651.55" y="563.44" font-size="13.2" fill="#1a1a1a">30</text>
<path d="M480.60 392.30V398.70M477.86 394.04L483.34 396.96M477.86 396.96L483.34 394.04" stroke="#111" stroke-width="1.1" fill="none"/>
<path d="M525.60 418.40V424.80M522.86 420.14L528.34 423.06M522.86 423.06L528.34 420.14" stroke="#111" stroke-width="1.1" fill="none"/>
<path d="M571.10 498.60V505.00M568.36 500.34L573.84 503.26M568.36 503.26L573.84 500.34" stroke="#111" stroke-width="1.1" fill="none"/>
<path d="M619.50 498.60V505.00M616.76 500.34L622.24 503.26M616.76 503.26L622.24 500.34" stroke="#111" stroke-width="1.1" fill="none"/>
<path d="M663.60 505.70V512.10M660.86 507.44L666.34 510.36M660.86 510.36L666.34 507.44" stroke="#111" stroke-width="1.1" fill="none"/>
<text x="598.83" y="391.90" font-size="17.73" font-weight="bold" fill="#000" textLength="77.89" lengthAdjust="spacingAndGlyphs">NCI-H520</text>
<text transform="translate(365.40,520.95) rotate(-90)" x="0" y="0" font-size="13.08" font-weight="bold" fill="#1a1a1a" textLength="106.11" lengthAdjust="spacingAndGlyphs" xml:space="preserve">Cell viability  (%)</text>
<rect x="413.34" y="600.87" width="13.25" height="146.73" fill="#000"/>
<rect x="426.58" y="702.02" width="13.25" height="45.58" fill="#a6a6a6"/>
<path d="M419.96 596.39V605.36M416.65 596.39H423.27M416.65 605.36H423.27" stroke="#000" stroke-width="1.1" fill="none"/>
<path d="M433.21 701.30V702.74M429.90 701.30H436.52M429.90 702.74H436.52" stroke="#000" stroke-width="1.1" fill="none"/>
<rect x="459.70" y="602.03" width="13.25" height="145.57" fill="#000"/>
<rect x="472.95" y="726.04" width="13.25" height="21.56" fill="#a6a6a6"/>
<path d="M466.33 600.58V603.48M463.01 600.58H469.64M463.01 603.48H469.64" stroke="#000" stroke-width="1.1" fill="none"/>
<path d="M479.57 725.44V726.64M476.26 725.44H482.89M476.26 726.64H482.89" stroke="#000" stroke-width="1.1" fill="none"/>
<rect x="506.07" y="600.58" width="13.25" height="147.02" fill="#000"/>
<rect x="519.32" y="741.38" width="13.25" height="6.22" fill="#a6a6a6"/>
<path d="M512.69 599.86V601.31M509.38 599.86H516.00M509.38 601.31H516.00" stroke="#000" stroke-width="1.1" fill="none"/>
<path d="M525.94 740.78V741.98M522.63 740.78H529.25M522.63 741.98H529.25" stroke="#000" stroke-width="1.1" fill="none"/>
<rect x="552.44" y="609.70" width="13.25" height="137.90" fill="#000"/>
<rect x="565.68" y="743.11" width="13.25" height="4.49" fill="#a6a6a6"/>
<path d="M559.06 609.10V610.30M555.75 609.10H562.37M555.75 610.30H562.37" stroke="#000" stroke-width="1.1" fill="none"/>
<path d="M572.31 742.51V743.71M569.00 742.51H575.62M569.00 743.71H575.62" stroke="#000" stroke-width="1.1" fill="none"/>
<rect x="598.80" y="724.01" width="13.25" height="23.59" fill="#000"/>
<rect x="612.05" y="742.82" width="13.25" height="4.78" fill="#a6a6a6"/>
<path d="M605.43 721.99V726.04M602.11 721.99H608.74M602.11 726.04H608.74" stroke="#000" stroke-width="1.1" fill="none"/>
<path d="M618.67 742.22V743.42M615.36 742.22H621.99M615.36 743.42H621.99" stroke="#000" stroke-width="1.1" fill="none"/>
<rect x="645.17" y="743.40" width="13.25" height="4.20" fill="#000"/>
<rect x="658.42" y="743.40" width="13.25" height="4.20" fill="#a6a6a6"/>
<path d="M651.79 742.80V744.00M648.48 742.80H655.10M648.48 744.00H655.10" stroke="#000" stroke-width="1.1" fill="none"/>
<path d="M665.04 742.80V744.00M661.73 742.80H668.35M661.73 744.00H668.35" stroke="#000" stroke-width="1.1" fill="none"/>
<path d="M403.40 589.20V747.60H681.60" stroke="#868686" stroke-width="1.2" fill="none"/>
<path d="M399.00 747.60H403.40M399.00 718.66H403.40M399.00 689.72H403.40M399.00 660.78H403.40M399.00 631.84H403.40M399.00 602.90H403.40M403.40 747.60V752.00M449.77 747.60V752.00M496.13 747.60V752.00M542.50 747.60V752.00M588.87 747.60V752.00M635.23 747.60V752.00M681.60 747.60V752.00" stroke="#868686" stroke-width="1.2" fill="none"/>
<text x="383.27" y="752.14" font-size="13.2" fill="#1a1a1a">0</text>
<text x="375.93" y="723.20" font-size="13.2" fill="#1a1a1a">20</text>
<text x="375.93" y="694.26" font-size="13.2" fill="#1a1a1a">40</text>
<text x="375.93" y="665.32" font-size="13.2" fill="#1a1a1a">60</text>
<text x="375.93" y="636.38" font-size="13.2" fill="#1a1a1a">80</text>
<text x="368.59" y="607.44" font-size="13.2" fill="#1a1a1a">100</text>
<text x="417.44" y="770.64" font-size="13.2" fill="#1a1a1a">0.3</text>
<text x="463.79" y="770.64" font-size="13.2" fill="#1a1a1a">0.5</text>
<text x="515.47" y="770.64" font-size="13.2" fill="#1a1a1a">1</text>
<text x="562.03" y="770.58" font-size="13.2" fill="#1a1a1a">5</text>
<text x="604.46" y="770.64" font-size="13.2" fill="#1a1a1a">10</text>
<text x="651.08" y="770.64" font-size="13.2" fill="#1a1a1a">30</text>
<path d="M432.20 691.50V697.90M429.46 693.24L434.94 696.16M429.46 696.16L434.94 693.24" stroke="#111" stroke-width="1.1" fill="none"/>
<path d="M479.40 712.10V718.50M476.66 713.84L482.14 716.76M476.66 716.76L482.14 713.84" stroke="#111" stroke-width="1.1" fill="none"/>
<path d="M525.60 729.90V736.30M522.86 731.64L528.34 734.56M522.86 734.56L528.34 731.64" stroke="#111" stroke-width="1.1" fill="none"/>
<path d="M571.10 729.90V736.30M568.36 731.64L573.84 734.56M568.36 734.56L573.84 731.64" stroke="#111" stroke-width="1.1" fill="none"/>
<path d="M619.50 729.90V736.30M616.76 731.64L622.24 734.56M616.76 734.56L622.24 731.64" stroke="#111" stroke-width="1.1" fill="none"/>
<text x="614.56" y="616.00" font-size="18.31" font-weight="bold" fill="#000" textLength="38.93" lengthAdjust="spacingAndGlyphs">L132</text>
<text transform="translate(365.40,725.96) rotate(-90)" x="0" y="0" font-size="13.08" font-weight="bold" fill="#1a1a1a" textLength="104.84" lengthAdjust="spacingAndGlyphs" xml:space="preserve">Cell viability (%)</text>
<text x="7.35" y="20.70" font-size="22.97" font-weight="bold" fill="#000" textLength="16.04" lengthAdjust="spacingAndGlyphs">A</text>
<text x="339.48" y="20.70" font-size="22.97" font-weight="bold" fill="#000" textLength="14.21" lengthAdjust="spacingAndGlyphs">B</text>
<rect x="58.2" y="14.2" width="10" height="9.7" fill="#000"/>
<text x="71.79" y="23.90" font-size="15.41" fill="#1a1a1a" textLength="26.40" lengthAdjust="spacingAndGlyphs">PTX</text>
<rect x="58.2" y="34.4" width="10" height="9.5" fill="#bfbfbf"/>
<text x="72.57" y="44.20" font-size="15.55" fill="#1a1a1a" textLength="116.14" lengthAdjust="spacingAndGlyphs">Tripalm-NPs-PTX</text>
<rect x="419.1" y="2.9" width="9.5" height="9.3" fill="#000"/>
<text x="432.82" y="12.70" font-size="14.97" fill="#1a1a1a" textLength="25.66" lengthAdjust="spacingAndGlyphs">PTX</text>
<rect x="419.1" y="23.2" width="9.5" height="9.3" fill="#a6a6a6"/>
<text x="433.57" y="32.60" font-size="15.41" fill="#1a1a1a" textLength="115.64" lengthAdjust="spacingAndGlyphs">Tripalm-NPs-PTX</text>
<text x="105.18" y="968.20" font-size="13.08" font-weight="bold" fill="#1a1a1a" textLength="154.81" lengthAdjust="spacingAndGlyphs">PTX concentration (nM)</text>
<text x="452.48" y="790.20" font-size="13.52" font-weight="bold" fill="#1a1a1a" textLength="154.81" lengthAdjust="spacingAndGlyphs">PTX concentration (nM)</text>
</svg>
</body></html>
